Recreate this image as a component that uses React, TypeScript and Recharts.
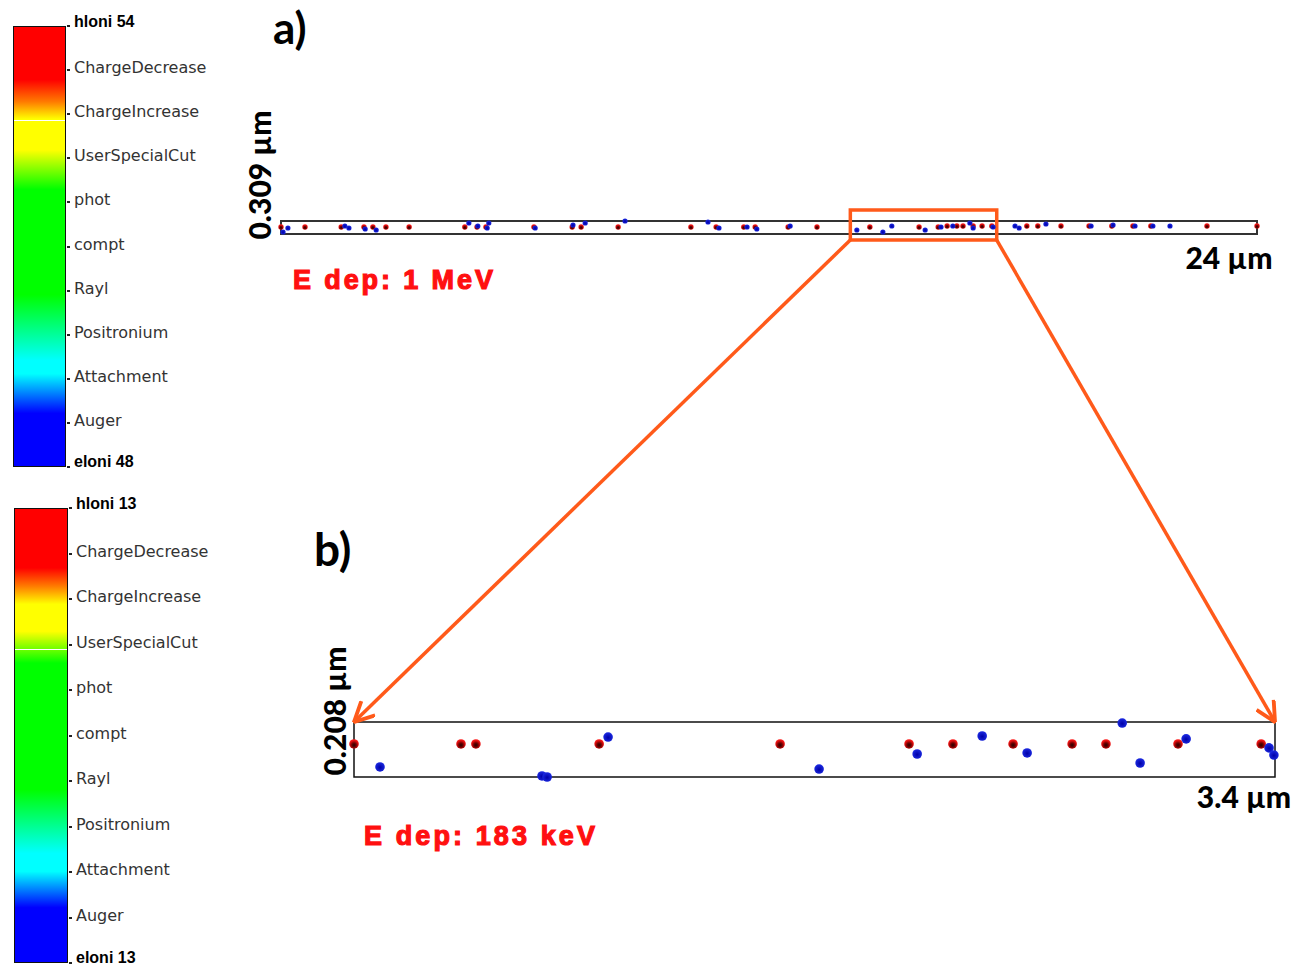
import React from 'react';
import { ScatterChart, Scatter, XAxis, YAxis, ReferenceArea } from 'recharts';

const W = 1297;
const H = 966;
const ORANGE = '#ff5a1a';

// colour-bar labels (identical list for both panels)
const PROCESS_LABELS = [
  'ChargeDecrease',
  'ChargeIncrease',
  'UserSpecialCut',
  'phot',
  'compt',
  'Rayl',
  'Positronium',
  'Attachment',
  'Auger',
];

// panel a) — full 1 MeV track, 24 µm x 0.309 µm
const A_X_MAX = 24;
const A_Y_MAX = 0.309;
const A_HOLE_X = [
  0.0, 0.59, 1.48, 2.04, 2.26, 2.58, 3.15, 4.52, 4.82, 5.04, 6.22, 7.16, 7.38, 8.29, 10.08, 10.7,
  11.38, 11.66, 12.47, 13.18, 14.48, 15.69, 16.16, 16.38, 16.62, 16.77, 17.02, 17.24, 17.48, 18.34,
  18.61, 19.18, 19.87, 20.43, 20.95, 21.39, 22.77, 24.0,
];
const A_HOLE_Y = [
  0.166, 0.166, 0.166, 0.166, 0.166, 0.166, 0.166, 0.166, 0.166, 0.166, 0.166, 0.166, 0.166, 0.166,
  0.166, 0.166, 0.166, 0.166, 0.166, 0.166, 0.166, 0.166, 0.166, 0.19, 0.19, 0.19, 0.19, 0.19, 0.19,
  0.19, 0.19, 0.19, 0.19, 0.19, 0.19, 0.19, 0.19, 0.19,
];
const A_ELEC_X = [
  0.05, 0.17, 1.57, 1.67, 2.07, 2.34, 4.62, 4.84, 5.07, 5.11, 6.25, 7.18, 7.48, 8.46, 10.5, 10.77,
  11.46, 11.7, 12.52, 14.16, 14.8, 15.02, 15.84, 16.23, 16.52, 16.94, 17.02, 17.51, 18.05, 18.15,
  18.81, 19.92, 20.46, 21.0, 21.44, 21.86,
];
const A_ELEC_Y = [
  0.048, 0.143, 0.19, 0.143, 0.119, 0.095, 0.261, 0.19, 0.143, 0.261, 0.143, 0.214, 0.261, 0.309,
  0.285, 0.143, 0.166, 0.119, 0.19, 0.095, 0.048, 0.19, 0.095, 0.166, 0.19, 0.261, 0.143, 0.166,
  0.19, 0.143, 0.238, 0.19, 0.214, 0.19, 0.19, 0.19,
];
// zoomed window drawn on panel a)
const ZOOM_X = [14.0, 17.6];
const ZOOM_Y = [-0.143, 0.57];

// panel b) — 183 keV segment, 3.4 µm x 0.208 µm
const B_X_MAX = 3.4;
const B_Y_MAX = 0.208;
const B_HOLE_X = [0.0, 0.395, 0.45, 0.905, 1.573, 2.049, 2.211, 2.433, 2.651, 2.776, 3.042, 3.349];
const B_HOLE_Y = [0.125, 0.125, 0.125, 0.125, 0.125, 0.125, 0.125, 0.125, 0.125, 0.125, 0.125, 0.125];
const B_ELEC_X = [0.096, 0.694, 0.713, 0.938, 1.717, 2.079, 2.319, 2.485, 2.836, 2.902, 3.072, 3.378, 3.396];
const B_ELEC_Y = [0.038, 0.004, 0.0, 0.151, 0.03, 0.087, 0.155, 0.091, 0.204, 0.053, 0.144, 0.11, 0.083];

// plot boxes in page pixels
const A_BOX = { left: 281, top: 221, width: 976, height: 13 };
const B_BOX = { left: 354, top: 722, width: 921, height: 55 };

const zip = (xs: number[], ys: number[]) => xs.map((x, i) => ({ x, y: ys[i] }));

const ball = (fill: string, r: number) => (p: any) => (
  <circle cx={p.cx} cy={p.cy} r={r} fill={fill} />
);

const ax = (x: number) => A_BOX.left + (x / A_X_MAX) * A_BOX.width;
const ay = (y: number) => A_BOX.top + (1 - y / A_Y_MAX) * A_BOX.height;

type BarProps = {
  left: number;
  top: number;
  width: number;
  height: number;
  top_label: string;
  bottom_label: string;
  stops: [number, string][];
  cut: number;
};

const ColorBar = ({ left, top, width, height, top_label, bottom_label, stops, cut }: BarProps) => {
  const step = height / (PROCESS_LABELS.length + 1);
  const grad = stops.map(([p, c]) => `${c} ${p}%`).join(', ');
  const last = PROCESS_LABELS.length + 1;
  return (
    <div style={{ position: 'absolute', left: 0, top: 0 }}>
      <div
        style={{
          position: 'absolute',
          left,
          top,
          width,
          height,
          boxSizing: 'border-box',
          border: '1.5px solid #111',
          background: `linear-gradient(to bottom, ${grad})`,
        }}
      />
      <div
        style={{
          position: 'absolute',
          left: left + 1,
          top: top + (cut / 100) * height,
          width: width - 2,
          height: 1,
          background: '#fff',
        }}
      />
      {[top_label, ...PROCESS_LABELS, bottom_label].map((t, i) => {
        const end = i === 0 || i === last;
        // keep the bottom label inside the page
        const nudge = i === last ? -3 : i === 0 ? -2 : 0;
        return (
          <div key={t + i}>
            <div
              style={{
                position: 'absolute',
                left: left + width + 1,
                top: top + i * step - 1,
                width: 3,
                height: 2,
                background: '#222',
              }}
            />
            <div
              style={{
                position: 'absolute',
                left: left + width + 8,
                top: top + i * step - 12 + nudge,
                fontFamily: end ? '"Liberation Sans", Arial, sans-serif' : '"DejaVu Sans", sans-serif',
                fontWeight: end ? 700 : 400,
                fontSize: 16,
                color: end ? '#000' : '#333',
                whiteSpace: 'nowrap',
                lineHeight: '20px',
              }}
            >
              {t}
            </div>
          </div>
        );
      })}
    </div>
  );
};

const STOPS_A: [number, string][] = [
  [0, '#ff0000'],
  [12, '#ff0000'],
  [17, '#ff7a00'],
  [21, '#ffff00'],
  [28, '#ffff00'],
  [37, '#00ff00'],
  [61, '#00ff00'],
  [76, '#00ffff'],
  [79, '#00ffff'],
  [88, '#0000ff'],
  [100, '#0000ff'],
];
const STOPS_B: [number, string][] = [
  [0, '#ff0000'],
  [13, '#ff0000'],
  [17, '#ff7a00'],
  [21, '#ffff00'],
  [27, '#ffff00'],
  [34, '#00ff00'],
  [62, '#00ff00'],
  [76, '#00ffff'],
  [80, '#00ffff'],
  [88, '#0000ff'],
  [100, '#0000ff'],
];

const TITLE_FONT = 'Lato, "Open Sans", sans-serif';
const RED_FONT = '"Liberation Sans", Arial, sans-serif';

export default function App() {
  const zx0 = ax(ZOOM_X[0]);
  const zx1 = ax(ZOOM_X[1]);
  const zy = ay(ZOOM_Y[0]);
  return (
    <div style={{ position: 'absolute', left: 0, top: 0, width: W, height: H, background: '#fff', overflow: 'hidden' }}>
      <svg width={0} height={0} style={{ position: 'absolute' }}>
        <defs>
          <radialGradient id="holeBall" cx="0.5" cy="0.62" r="0.6">
            <stop offset="0%" stopColor="#2a0000" />
            <stop offset="35%" stopColor="#6a0000" />
            <stop offset="75%" stopColor="#e00f0f" />
            <stop offset="100%" stopColor="#ff2020" />
          </radialGradient>
          <radialGradient id="elecBall" cx="0.5" cy="0.55" r="0.6">
            <stop offset="0%" stopColor="#0000a8" />
            <stop offset="100%" stopColor="#1f2fe8" />
          </radialGradient>
        </defs>
      </svg>

      <ColorBar left={13} top={26} width={53} height={441} top_label="hloni 54" bottom_label="eloni 48" stops={STOPS_A} cut={21.3} />
      <ColorBar left={14} top={508} width={54} height={455} top_label="hloni 13" bottom_label="eloni 13" stops={STOPS_B} cut={31} />

      {/* panel a */}
      <div style={{ position: 'absolute', left: 0, top: 0 }}>
        <ScatterChart
          width={W}
          height={H}
          margin={{ top: A_BOX.top, left: A_BOX.left, right: W - A_BOX.left - A_BOX.width, bottom: H - A_BOX.top - A_BOX.height }}
        >
          <XAxis type="number" dataKey="x" domain={[0, A_X_MAX]} hide />
          <YAxis type="number" dataKey="y" domain={[0, A_Y_MAX]} hide />
          <ReferenceArea x1={0} x2={A_X_MAX} y1={0} y2={A_Y_MAX} fill="none" stroke="#333" strokeWidth={2} ifOverflow="visible" />
          <ReferenceArea
            x1={ZOOM_X[0]}
            x2={ZOOM_X[1]}
            y1={ZOOM_Y[0]}
            y2={ZOOM_Y[1]}
            fill="none"
            stroke={ORANGE}
            strokeWidth={3.5}
            ifOverflow="visible"
          />
          <Scatter data={zip(A_HOLE_X, A_HOLE_Y)} shape={ball('url(#holeBall)', 2.7)} isAnimationActive={false} />
          <Scatter data={zip(A_ELEC_X, A_ELEC_Y)} shape={ball('url(#elecBall)', 2.6)} isAnimationActive={false} />
        </ScatterChart>
      </div>

      {/* panel b */}
      <div style={{ position: 'absolute', left: 0, top: 0 }}>
        <ScatterChart
          width={W}
          height={H}
          margin={{ top: B_BOX.top, left: B_BOX.left, right: W - B_BOX.left - B_BOX.width, bottom: H - B_BOX.top - B_BOX.height }}
        >
          <XAxis type="number" dataKey="x" domain={[0, B_X_MAX]} hide />
          <YAxis type="number" dataKey="y" domain={[0, B_Y_MAX]} hide />
          <ReferenceArea x1={0} x2={B_X_MAX} y1={0} y2={B_Y_MAX} fill="none" stroke="#111" strokeWidth={1.5} ifOverflow="visible" />
          <Scatter data={zip(B_HOLE_X, B_HOLE_Y)} shape={ball('url(#holeBall)', 4.8)} isAnimationActive={false} />
          <Scatter data={zip(B_ELEC_X, B_ELEC_Y)} shape={ball('url(#elecBall)', 4.8)} isAnimationActive={false} />
        </ScatterChart>
      </div>

      {/* zoom connectors and annotations */}
      <svg width={W} height={H} style={{ position: 'absolute', left: 0, top: 0 }}>
        <defs>
          <marker id="arrow" viewBox="0 0 20 20" refX="19" refY="10" markerWidth="22" markerHeight="22" markerUnits="userSpaceOnUse" orient="auto">
            <path d="M1,1 L19,10 L1,19" fill="none" stroke={ORANGE} strokeWidth={3.5} />
          </marker>
        </defs>
        <line x1={zx0} y1={zy} x2={B_BOX.left} y2={B_BOX.top} stroke={ORANGE} strokeWidth={3.5} markerEnd="url(#arrow)" />
        <line x1={zx1} y1={zy} x2={B_BOX.left + B_BOX.width} y2={B_BOX.top} stroke={ORANGE} strokeWidth={3.5} markerEnd="url(#arrow)" />

        <text x={273} y={44} fontFamily={TITLE_FONT} fontWeight={700} fontSize={44} fill="#000">a)</text>
        <text x={314} y={566} fontFamily={TITLE_FONT} fontWeight={700} fontSize={46} fill="#000">b)</text>

        <text x={271} y={175} transform="rotate(-90 271 175)" textAnchor="middle" fontFamily={TITLE_FONT} fontWeight={900} fontSize={30} fill="#000">
          0.309 µm
        </text>
        <text x={346} y={711} transform="rotate(-90 346 711)" textAnchor="middle" fontFamily={TITLE_FONT} fontWeight={900} fontSize={30} fill="#000">
          0.208 µm
        </text>
        <text x={1229} y={269} textAnchor="middle" fontFamily={TITLE_FONT} fontWeight={900} fontSize={30} fill="#000">
          24 µm
        </text>
        <text x={1244} y={808} textAnchor="middle" fontFamily={TITLE_FONT} fontWeight={900} fontSize={30} fill="#000">
          3.4 µm
        </text>

        <text x={293} y={289} fontFamily={RED_FONT} fontWeight={700} fontSize={27} letterSpacing={2.9} stroke="#ff1010" strokeWidth={1.2} fill="#ff1010">
          E dep: 1 MeV
        </text>
        <text x={364} y={845} fontFamily={RED_FONT} fontWeight={700} fontSize={27} letterSpacing={3.1} stroke="#ff1010" strokeWidth={1.2} fill="#ff1010">
          E dep: 183 keV
        </text>
      </svg>
    </div>
  );
}
